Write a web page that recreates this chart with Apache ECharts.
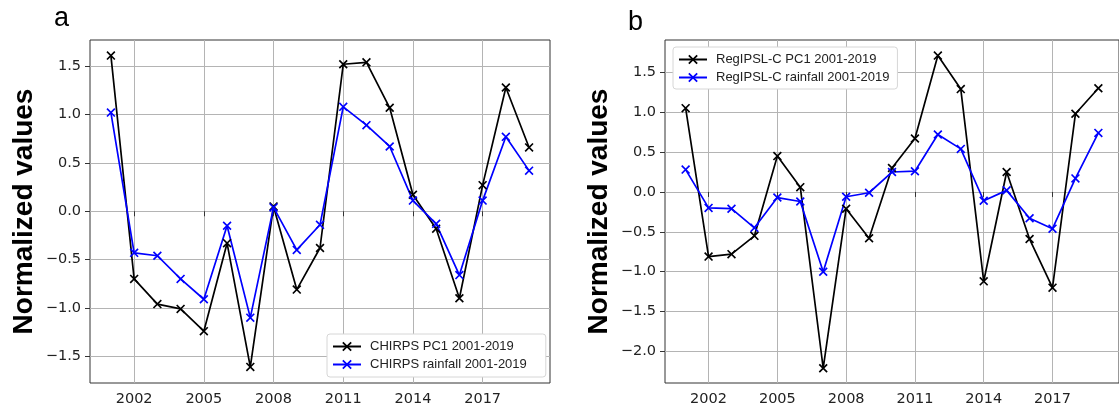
<!DOCTYPE html>
<html>
<head>
<meta charset="utf-8">
<title>Normalized values</title>
<script src="https://cdn.jsdelivr.net/npm/echarts@6/dist/echarts.min.js"></script>
<style>
html, body { margin: 0; padding: 0; background: #fff; }
#chart { width: 1119px; height: 407px; }
</style>
</head>
<body>
<div id="chart"></div>
<script>
// data
var years = [2001, 2002, 2003, 2004, 2005, 2006, 2007, 2008, 2009, 2010,
             2011, 2012, 2013, 2014, 2015, 2016, 2017, 2018, 2019];
var xTicks = [2002, 2005, 2008, 2011, 2014, 2017];
var yTicksA = [-1.5, -1.0, -0.5, 0.0, 0.5, 1.0, 1.5];
var yTicksB = [-2.0, -1.5, -1.0, -0.5, 0.0, 0.5, 1.0, 1.5];

var chirpsPC1  = [1.61, -0.70, -0.96, -1.01, -1.24, -0.33, -1.61, 0.05, -0.81, -0.38,
                  1.52, 1.54, 1.07, 0.17, -0.18, -0.90, 0.27, 1.28, 0.66];
var chirpsRain = [1.02, -0.43, -0.46, -0.70, -0.91, -0.15, -1.10, 0.04, -0.40, -0.14,
                  1.08, 0.89, 0.67, 0.11, -0.13, -0.66, 0.11, 0.77, 0.42];
var ipslPC1    = [1.05, -0.81, -0.78, -0.55, 0.45, 0.06, -2.21, -0.21, -0.58, 0.30,
                  0.67, 1.71, 1.29, -1.12, 0.25, -0.59, -1.20, 0.98, 1.30];
var ipslRain   = [0.28, -0.20, -0.21, -0.45, -0.07, -0.12, -1.00, -0.06, -0.01, 0.25,
                  0.26, 0.72, 0.54, -0.11, 0.02, -0.33, -0.46, 0.17, 0.74];

function pairs(vals) {
	return years.map(function (y, i) { return [y, vals[i]]; });
}

var xMark = 'path://M0,1.3 L1.3,0 L10,8.7 L8.7,10 Z M8.7,0 L10,1.3 L1.3,10 L0,8.7 Z';
var tickFont = { fontSize: 14.5, fontFamily: 'DejaVu Sans', color: '#222' };

function fmtY(v) {
	return v.toFixed(1).replace('-', '\u2212');
}

function xAxisFor(idx, min, max) {
	return {
		type: 'value', gridIndex: idx, min: min, max: max,
		axisLine: { show: false },
		axisTick: { show: true, length: 5, customValues: xTicks, lineStyle: { color: '#333' } },
		axisLabel: Object.assign({ customValues: xTicks, margin: 9, formatter: function (v) { return String(v); } }, tickFont),
		splitLine: { show: true, lineStyle: { color: '#b4b4b4', width: 1 } }
	};
}

function yAxisFor(idx, min, max, ticks) {
	return {
		type: 'value', gridIndex: idx, min: min, max: max,
		name: 'Normalized values', nameLocation: 'middle', nameRotate: 90, nameGap: 52,
		nameTextStyle: { fontSize: 28, fontWeight: 'bold', fontFamily: 'Liberation Sans', color: '#000' },
		axisLine: { show: false },
		axisTick: { show: true, length: 5, customValues: ticks, lineStyle: { color: '#333' } },
		axisLabel: Object.assign({ customValues: ticks, margin: 9, formatter: fmtY }, tickFont),
		splitLine: { show: true, lineStyle: { color: '#b4b4b4', width: 1 } }
	};
}

function lineSeries(name, vals, color, idx) {
	return {
		name: name, type: 'line', xAxisIndex: idx, yAxisIndex: idx,
		data: pairs(vals),
		symbol: xMark, symbolSize: 9, showAllSymbol: true,
		lineStyle: { color: color, width: 1.7 },
		itemStyle: { color: color },
		emphasis: { disabled: true },
		animation: false
	};
}

function legendFor(names, left, top, pad) {
	return {
		orient: 'vertical', left: left, top: top, data: names,
		itemWidth: 28, itemHeight: 12, itemGap: 5,
		padding: pad,
		backgroundColor: '#fff', borderColor: '#d6d6d6', borderWidth: 1, borderRadius: 3,
		textStyle: { fontSize: 13, fontFamily: 'Liberation Sans', color: '#222', padding: [0, 0, 0, 4] }
	};
}

var myChart = echarts.init(document.getElementById('chart'));

option = {
	backgroundColor: '#fff',
	animation: false,
	title: [
		{ text: 'a', left: 49, top: 0, textStyle: { fontSize: 27, fontWeight: 'normal', fontFamily: 'Liberation Sans', color: '#000' } },
		{ text: 'b', left: 623, top: 4, textStyle: { fontSize: 27, fontWeight: 'normal', fontFamily: 'Liberation Sans', color: '#000' } }
	],
	grid: [
		{ left: 90, top: 40, width: 460, height: 343, show: true, borderColor: '#333', borderWidth: 1 },
		{ left: 665, top: 40, width: 462, height: 343, show: true, borderColor: '#333', borderWidth: 1 }
	],
	xAxis: [ xAxisFor(0, 2000.1, 2019.9), xAxisFor(1, 2000.1, 2019.9) ],
	yAxis: [ yAxisFor(0, -1.776, 1.771, yTicksA), yAxisFor(1, -2.395, 1.905, yTicksB) ],
	legend: [
		legendFor(['CHIRPS PC1 2001-2019', 'CHIRPS rainfall 2001-2019'], 327, 334, [6, 19, 6, 5]),
		legendFor(['RegIPSL-C PC1 2001-2019', 'RegIPSL-C rainfall 2001-2019'], 673, 47, [6, 8, 5, 5])
	],
	series: [
		lineSeries('CHIRPS PC1 2001-2019', chirpsPC1, '#000000', 0),
		lineSeries('CHIRPS rainfall 2001-2019', chirpsRain, '#0000ff', 0),
		lineSeries('RegIPSL-C PC1 2001-2019', ipslPC1, '#000000', 1),
		lineSeries('RegIPSL-C rainfall 2001-2019', ipslRain, '#0000ff', 1)
	]
};
myChart.setOption(option);
</script>
</body>
</html>
